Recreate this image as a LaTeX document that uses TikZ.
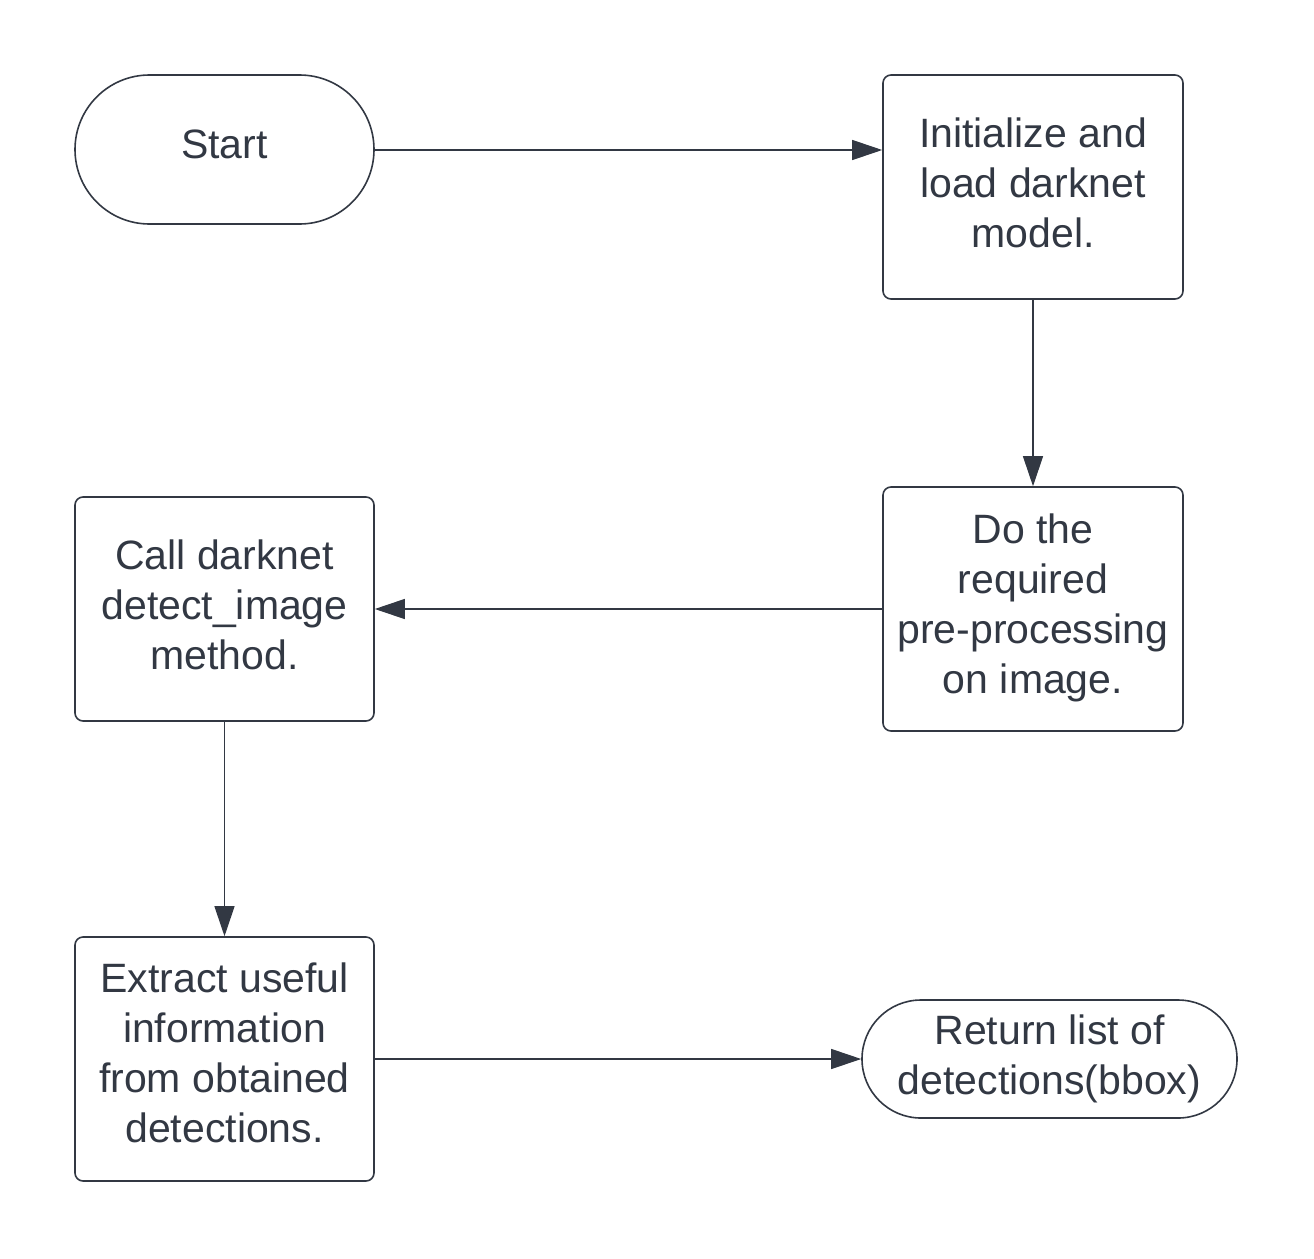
\documentclass[tikz,border=0pt]{standalone}
\usepackage{fontspec}
\setmainfont{Liberation Sans}
\usetikzlibrary{arrows.meta,shapes.misc}
\definecolor{ink}{HTML}{323843}
\begin{document}
\begin{tikzpicture}[x=1pt,y=-1pt,
  txt/.style={font=\fontsize{41}{50}\selectfont, text=ink, align=center, inner sep=0pt},
  proc/.style={draw=ink, line width=1.6pt, rounded corners=8pt, minimum width=300pt, inner sep=0pt},
  term/.style={draw=ink, line width=1.6pt, rounded rectangle, inner sep=0pt},
  conn/.style={draw=ink, line width=1.2pt, -{Triangle[length=30pt,width=20pt]}}]
\useasboundingbox (0,0) rectangle (1314,1258);
\node[term, minimum width=299pt, minimum height=149pt,
  label={[txt,yshift=5pt]center:Start}] (start) at (224.5,149.5) {};
\node[proc, minimum height=224pt,
  label={[txt,yshift=4pt]center:{Initialize and\\load darknet\\model.}}] (init) at (1033,187) {};
\node[proc, minimum height=244pt,
  label={[txt,yshift=1pt]center:{Do the\\required\\pre-processing\\on image.}}] (pre) at (1033,609) {};
\node[proc, minimum width=299pt, minimum height=224pt,
  label={[txt,yshift=4pt]center:{Call darknet\\detect\_image\\method.}}] (call) at (224.5,609) {};
\node[proc, minimum width=299pt, minimum height=244pt,
  label={[txt,yshift=6pt]center:{Extract useful\\information\\from obtained\\detections.}}] (extract) at (224.5,1059) {};
\node[term, minimum width=375pt, minimum height=118pt,
  label={[txt]center:{Return list of\\detections(bbox)}}] (ret) at (1049.5,1059) {};
\draw[conn] (start.east |- 0,150) -- (init.west |- 0,150);
\draw[conn] (init) -- (pre);
\draw[conn] (pre) -- (call);
\draw[conn] (call) -- (extract);
\draw[conn] (extract) -- (ret);
\end{tikzpicture}
\end{document}
